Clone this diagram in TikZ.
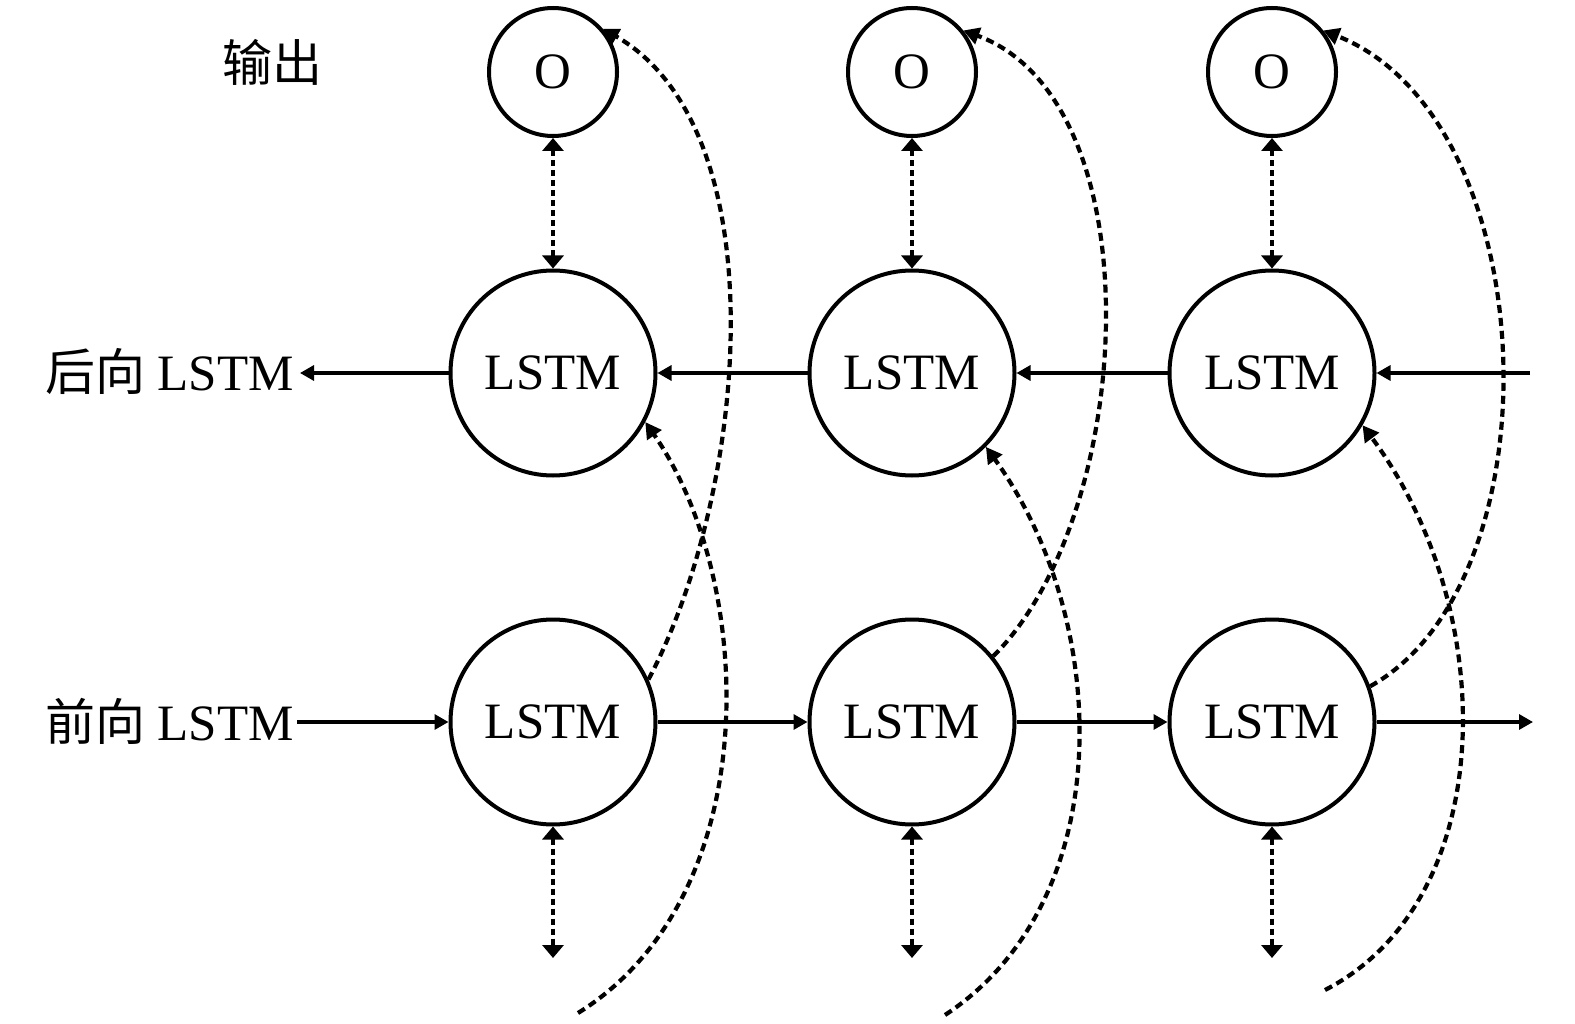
\documentclass[tikz,border=0pt]{standalone}
\usepackage{fontspec}
\setmainfont{Liberation Serif}
\newfontfamily\cjk{Noto Sans CJK SC}
\usetikzlibrary{arrows.meta}
\begin{document}
\begin{tikzpicture}[x=1pt,y=-1pt,
  cell/.style={circle,draw,line width=4pt,minimum size=205pt,inner sep=0pt,font=\fontsize{51}{51}\selectfont},
  outc/.style={circle,draw,line width=4pt,minimum size=128pt,inner sep=0pt,font=\fontsize{51}{51}\selectfont},
  lbl/.style={inner sep=0pt,font=\fontsize{51}{51}\selectfont},
  cjkfont/.style={font=\cjk\fontsize{50}{50}\selectfont},
  solidarr/.style={line width=3.2pt,-{Triangle[length=14pt,width=15pt]}},
  dotarr/.style={line width=4.5pt,dash pattern=on 6pt off 4pt,{Triangle[length=13pt,width=21pt]}-{Triangle[length=13pt,width=21pt]}},
  curvearr/.style={line width=4.2pt,dash pattern=on 8pt off 5pt,-{Triangle[length=16pt,width=17pt]}}]
\useasboundingbox (0,0) rectangle (1575,1024);

% nodes
\foreach \i/\x in {1/553,2/912,3/1272}{
  \node[outc] (O\i) at (\x,72) {O};
  \node[cell] (B\i) at (\x,373) {LSTM};
  \node[cell] (F\i) at (\x,722) {LSTM};
  \coordinate (d\i) at (\x,958);
}
\node[cjkfont] (outl) at (272,62) {输出};
\node[lbl,anchor=base east] (lb) at (294,391) {{\cjk\fontsize{50}{50}\selectfont 后向} LSTM};
\node[lbl,anchor=base east] (lf) at (294,740) {{\cjk\fontsize{50}{50}\selectfont 前向} LSTM};
\coordinate (lbe) at ([xshift=6pt]lb.east);
\coordinate (lfe) at ([xshift=3pt]lf.east);
\coordinate (rb) at (1530,373);
\coordinate (rf) at (1533,722);
\coordinate (bt1) at (578,1013);
\coordinate (bt2) at (945,1015);
\coordinate (bt3) at (1325,990);

% backward chain
\draw[solidarr] (rb) -- (B3.east);
\draw[solidarr] (B3.west) -- (B2.east);
\draw[solidarr] (B2.west) -- (B1.east);
\draw[solidarr] (B1.west) -- (lbe |- B1.west);

% forward chain
\draw[solidarr] (lfe |- F1.west) -- (F1.west);
\draw[solidarr] (F1.east) -- (F2.west);
\draw[solidarr] (F2.east) -- (F3.west);
\draw[solidarr] (F3.east) -- (rf);

% vertical dotted double arrows
\foreach \i in {1,2,3}{
  \draw[dotarr] (O\i.south) -- (B\i.north);
  \draw[dotarr] (F\i.south) -- (d\i);
}

% forward LSTM -> output curves
\draw[curvearr] (F1.24) .. controls +(99,-187) and +(177,102) .. (O1.41);
\draw[curvearr] (F2.39) .. controls +(143,-142) and +(193,71) .. (O2.39);
\draw[curvearr] (F3.20) .. controls +(190,-106) and +(222,88) .. (O3.39);

% input -> backward LSTM curves
\draw[curvearr] (bt1) .. controls +(190,-118) and +(110,158) .. (B1.-28);
\draw[curvearr] (bt2) .. controls +(175,-115) and +(125,173) .. (B2.-45);
\draw[curvearr] (bt3) .. controls +(175,-90) and +(138,185) .. (B3.-30);
\end{tikzpicture}
\end{document}
